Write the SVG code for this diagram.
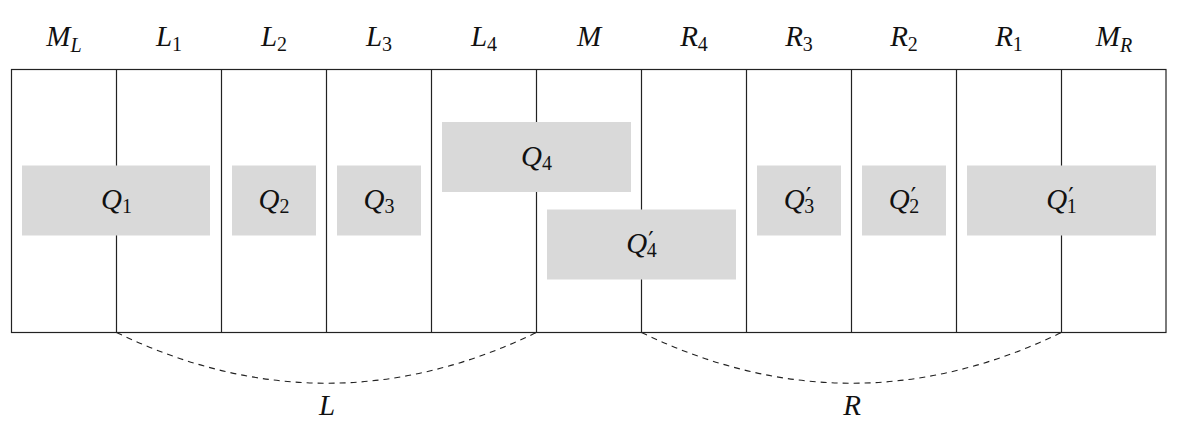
<svg xmlns="http://www.w3.org/2000/svg" width="1200" height="441" viewBox="0 0 1200 441">
<style>
.ln{stroke:#222;stroke-width:1.2;fill:none}
.box{fill:#d9d9d9;stroke:none}
.t{font-family:"Liberation Serif","DejaVu Serif",serif;font-size:29px;font-style:italic;fill:#111;text-anchor:middle}
.s{font-size:20px;font-style:normal}
.si{font-size:20px;font-style:italic}
.p{font-family:"DejaVu Sans",sans-serif;font-size:24px;font-style:normal}
.dash{stroke:#222;stroke-width:1.1;fill:none;stroke-dasharray:6,5}
</style>
<rect width="1200" height="441" fill="#fff"/>
<g id="frame">
<rect class="ln" x="11.5" y="69.5" width="1154.5" height="263"/>
<path class="ln" d="M116.5,69.5V332.5M221.5,69.5V332.5M326.5,69.5V332.5M431.5,69.5V332.5M536.5,69.5V332.5M641.5,69.5V332.5M746.5,69.5V332.5M851.5,69.5V332.5M956.5,69.5V332.5M1061.5,69.5V332.5"/>
</g>
<g id="headers">
<text class="t" x="64" y="46">M<tspan class="si" dy="6">L</tspan></text>
<text class="t" x="169" y="46">L<tspan class="s" dy="5">1</tspan></text>
<text class="t" x="274" y="46">L<tspan class="s" dy="5">2</tspan></text>
<text class="t" x="379" y="46">L<tspan class="s" dy="5">3</tspan></text>
<text class="t" x="484" y="46">L<tspan class="s" dy="5">4</tspan></text>
<text class="t" x="589" y="46">M</text>
<text class="t" x="694" y="46">R<tspan class="s" dy="5">4</tspan></text>
<text class="t" x="799" y="46">R<tspan class="s" dy="5">3</tspan></text>
<text class="t" x="904" y="46">R<tspan class="s" dy="5">2</tspan></text>
<text class="t" x="1009" y="46">R<tspan class="s" dy="5">1</tspan></text>
<text class="t" x="1114" y="46">M<tspan class="si" dy="6">R</tspan></text>
</g>
<g id="Q1"><rect class="box" x="22" y="165.5" width="188" height="70"/><text class="t" x="116.5" y="209">Q<tspan class="s" dy="4">1</tspan></text></g>
<g id="Q2"><rect class="box" x="232" y="165.5" width="84" height="70"/><text class="t" x="274" y="209">Q<tspan class="s" dy="4">2</tspan></text></g>
<g id="Q3"><rect class="box" x="337" y="165.5" width="84" height="70"/><text class="t" x="379" y="209">Q<tspan class="s" dy="4">3</tspan></text></g>
<g id="Q4"><rect class="box" x="442" y="122" width="189" height="70"/><text class="t" x="536.5" y="165.5">Q<tspan class="s" dy="4">4</tspan></text></g>
<g id="Q4p"><rect class="box" x="547" y="209.5" width="189" height="70"/><text class="t" x="641.5" y="253">Q<tspan class="p" dx="1" dy="-4">′</tspan><tspan class="s" dx="-7" dy="8">4</tspan></text></g>
<g id="Q3p"><rect class="box" x="757" y="165.5" width="84" height="70"/><text class="t" x="799" y="209">Q<tspan class="p" dx="1" dy="-4">′</tspan><tspan class="s" dx="-7" dy="8">3</tspan></text></g>
<g id="Q2p"><rect class="box" x="862" y="165.5" width="84" height="70"/><text class="t" x="904" y="209">Q<tspan class="p" dx="1" dy="-4">′</tspan><tspan class="s" dx="-7" dy="8">2</tspan></text></g>
<g id="Q1p"><rect class="box" x="967" y="165.5" width="189" height="70"/><text class="t" x="1061.5" y="209">Q<tspan class="p" dx="1" dy="-4">′</tspan><tspan class="s" dx="-7" dy="8">1</tspan></text></g>
<g id="connectors">
<path class="dash" d="M116.5,332.5Q326.5,434 536.5,332.5"/>
<path class="dash" d="M641.5,332.5Q851.5,434 1061.5,332.5"/>
<text class="t" x="327" y="415">L</text>
<text class="t" x="852" y="415">R</text>
</g>
</svg>
